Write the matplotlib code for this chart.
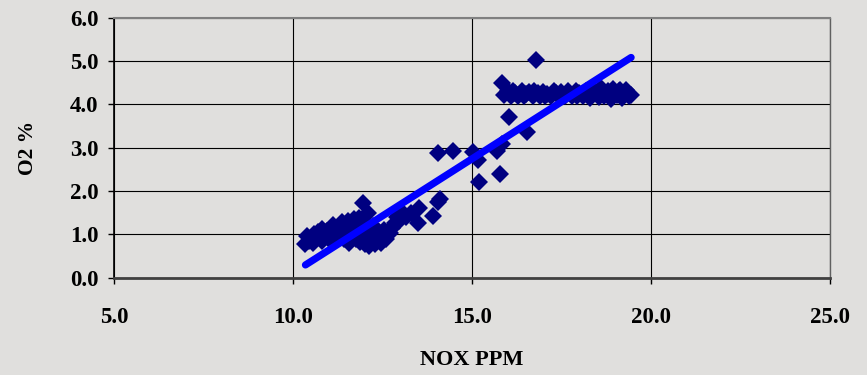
import matplotlib.pyplot as plt

# NOX vs O2 readings
nox_low = [10.35, 10.38, 10.45, 10.5, 10.55, 10.6, 10.65, 10.7, 10.75, 10.8, 10.82, 10.88,
           10.95, 11.0, 11.05, 11.1, 11.12, 11.18, 11.22, 11.28, 11.32, 11.38, 11.42, 11.45,
           11.5, 11.55, 11.58, 11.62, 11.68, 11.72, 11.75, 11.8, 11.85, 11.88, 11.92, 11.96,
           12.0, 12.02, 12.05, 12.1, 12.12, 12.15, 12.2, 12.25, 12.3, 12.35, 12.4, 12.45,
           12.5, 12.55, 12.6, 12.65, 12.7, 12.78, 12.85, 12.9, 12.95, 13.0, 13.05, 13.15,
           13.3, 13.5, 13.52, 13.9, 14.05, 14.1]
o2_low = [0.78, 0.95, 0.85, 0.92, 0.8, 1.0, 0.88, 1.05, 0.95, 1.12, 0.85, 1.0,
          1.08, 0.9, 1.15, 1.0, 1.22, 0.95, 1.1, 1.2, 1.0, 1.28, 0.88, 1.15,
          1.05, 1.3, 0.8, 0.95, 1.2, 1.35, 0.88, 1.1, 1.38, 0.82, 1.0, 1.72,
          1.25, 0.78, 0.95, 1.48, 0.72, 1.1, 0.85, 1.2, 0.78, 0.95, 1.05, 0.8,
          0.98, 1.1, 0.9, 1.05, 1.02, 1.15, 1.25, 1.4, 1.3, 1.55, 1.45, 1.4,
          1.5, 1.25, 1.6, 1.42, 1.75, 1.82]

nox_mid = [14.06, 14.48, 15.04, 15.18, 15.2, 15.78, 15.7, 15.85, 16.55, 16.05]
o2_mid = [2.88, 2.93, 2.9, 2.72, 2.2, 2.4, 2.92, 3.08, 3.35, 3.7]

nox_high = [15.85, 15.9, 16.0, 16.1, 16.15, 16.2, 16.3, 16.4, 16.45, 16.5, 16.6, 16.7,
            16.75, 16.8, 16.85, 16.9, 17.0, 17.05, 17.1, 17.2, 17.3, 17.35, 17.4, 17.5,
            17.6, 17.65, 17.7, 17.8, 17.9, 17.95, 18.0, 18.1, 18.2, 18.25, 18.3, 18.4,
            18.5, 18.55, 18.6, 18.7, 18.8, 18.85, 18.9, 18.95, 19.05, 19.1, 19.15, 19.2,
            19.3, 19.4, 19.45]
o2_high = [4.5, 4.22, 4.3, 4.2, 4.3, 4.26, 4.2, 4.3, 4.2, 4.24, 4.28, 4.2,
           4.3, 5.03, 4.26, 4.2, 4.28, 4.2, 4.24, 4.2, 4.3, 4.26, 4.22, 4.28,
           4.2, 4.25, 4.3, 4.2, 4.3, 4.18, 4.25, 4.18, 4.3, 4.22, 4.14, 4.34,
           4.25, 4.16, 4.38, 4.2, 4.3, 4.24, 4.12, 4.36, 4.22, 4.3, 4.34, 4.14,
           4.32, 4.2, 4.22]

# linear trend end points
trend_x = [10.35, 19.45]
trend_y = [0.29, 5.08]

bg = "#e0dfdd"
plt.rcParams["font.family"] = "Liberation Serif"
plt.rcParams["font.weight"] = "bold"

fig = plt.figure(figsize=(8.67, 3.75), dpi=100, facecolor=bg)
ax = fig.add_axes([0.1315, 0.26, 0.8255, 0.693], facecolor=bg)

nox = nox_low + nox_mid + nox_high
o2 = o2_low + o2_mid + o2_high
ax.plot(nox, o2, "D", color="#000080", markersize=9, markeredgewidth=0, zorder=3)
ax.plot(trend_x, trend_y, color="#0000ff", linewidth=5.2, solid_capstyle="round", zorder=4)

ax.set_xlim(5, 25)
ax.set_ylim(0, 6)
ax.set_xticks([5, 10, 15, 20, 25])
ax.set_yticks([0, 1, 2, 3, 4, 5, 6])
ax.set_xticklabels(["5.0", "10.0", "15.0", "20.0", "25.0"])
ax.set_yticklabels(["0.0", "1.0", "2.0", "3.0", "4.0", "5.0", "6.0"])
ax.grid(True, color="black", linewidth=0.8, zorder=1)
ax.set_axisbelow(True)

ax.spines["top"].set_color("#808080")
ax.spines["top"].set_linewidth(1.5)
ax.spines["right"].set_color("#606060")
ax.spines["right"].set_linewidth(1.0)
ax.spines["left"].set_color("black")
ax.spines["left"].set_linewidth(1.2)
ax.spines["bottom"].set_color("#404040")
ax.spines["bottom"].set_linewidth(2)

ax.tick_params(axis="both", direction="out", length=4, width=1, labelsize=16.5)
ax.tick_params(axis="x", pad=17, labelsize=16.5)
ax.tick_params(axis="y", pad=7)

ax.set_xlabel("NOX PPM", fontsize=16, fontweight="bold", labelpad=16)
ax.set_ylabel("O2 %", fontsize=15.5, fontweight="bold")
ax.yaxis.set_label_coords(-0.106, 0.5)

fig.savefig("out.png", dpi=100, facecolor=bg)
